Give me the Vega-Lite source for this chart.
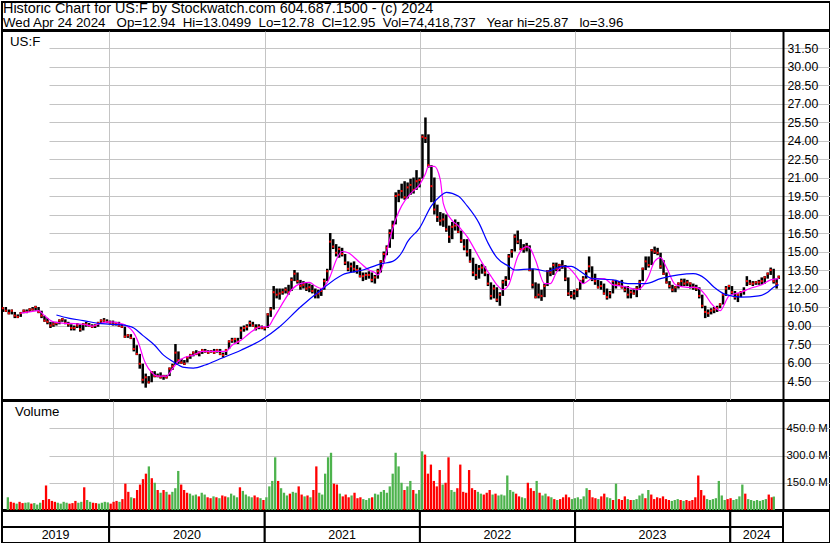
{
"$schema": "https://vega.github.io/schema/vega-lite/v6.json",
"padding": 0,
"background": "white",
"spacing": -2,
"resolve": {"scale": {"color": "independent"}},
"config": {
  "view": {"stroke": "#000000", "strokeWidth": 2},
  "font": "Liberation Sans",
  "axis": {"labelFont": "Liberation Sans", "labelColor": "#000000", "labelFontSize": 12.3, "gridColor": "#c4c4c4", "gridWidth": 1, "gridOpacity": 1}
},
"datasets": {
"hdr": [
  {"n": "1", "t": "Historic Chart for US:F by Stockwatch.com 604.687.1500 - (c) 2024"},
  {"n": "2", "t": "Wed Apr 24 2024\u00a0\u00a0 Op=12.94\u00a0 Hi=13.0499\u00a0 Lo=12.78\u00a0 Cl=12.95\u00a0 Vol=74,418,737\u00a0\u00a0 Year hi=25.87\u00a0\u00a0 lo=3.96"}
],
"yrs": [
  {"lab": "2019", "s": "2019-04-24", "e": "2020-01-01", "m": "2019-08-28"},
  {"lab": "2020", "s": "2020-01-01", "e": "2021-01-01", "m": "2020-07-02"},
  {"lab": "2021", "s": "2021-01-01", "e": "2022-01-01", "m": "2021-07-02"},
  {"lab": "2022", "s": "2022-01-01", "e": "2023-01-01", "m": "2022-07-02"},
  {"lab": "2023", "s": "2023-01-01", "e": "2024-01-01", "m": "2023-07-02"},
  {"lab": "2024", "s": "2024-01-01", "e": "2024-05-04", "m": "2024-03-03"}
],
"px": [
{"d":"2019-04-26","h":10.5,"l":10.1,"c":10.4,"v":70,"u":"up"},
{"d":"2019-05-03","h":10.5,"l":10.1,"c":10.2,"v":45,"u":"dn"},
{"d":"2019-05-10","h":10.3,"l":9.9,"c":10.0,"v":40,"u":"dn"},
{"d":"2019-05-17","h":10.3,"l":9.9,"c":10.2,"v":35,"u":"up"},
{"d":"2019-05-24","h":10.1,"l":9.6,"c":9.8,"v":45,"u":"dn"},
{"d":"2019-05-31","h":9.9,"l":9.6,"c":9.7,"v":38,"u":"dn"},
{"d":"2019-06-07","h":10.1,"l":9.7,"c":10.0,"v":40,"u":"up"},
{"d":"2019-06-14","h":10.3,"l":10.0,"c":10.2,"v":42,"u":"up"},
{"d":"2019-06-21","h":10.3,"l":10.0,"c":10.1,"v":35,"u":"dn"},
{"d":"2019-06-28","h":10.4,"l":10.1,"c":10.3,"v":38,"u":"up"},
{"d":"2019-07-05","h":10.5,"l":10.2,"c":10.3,"v":30,"u":"up"},
{"d":"2019-07-12","h":10.6,"l":10.2,"c":10.5,"v":40,"u":"up"},
{"d":"2019-07-19","h":10.5,"l":10.0,"c":10.1,"v":55,"u":"dn"},
{"d":"2019-07-26","h":10.2,"l":9.6,"c":9.8,"v":135,"u":"dn"},
{"d":"2019-08-02","h":9.8,"l":9.3,"c":9.4,"v":60,"u":"dn"},
{"d":"2019-08-09","h":9.6,"l":9.1,"c":9.3,"v":50,"u":"dn"},
{"d":"2019-08-16","h":9.3,"l":8.8,"c":9.0,"v":45,"u":"dn"},
{"d":"2019-08-23","h":9.3,"l":8.9,"c":9.1,"v":40,"u":"up"},
{"d":"2019-08-30","h":9.3,"l":9.0,"c":9.2,"v":35,"u":"up"},
{"d":"2019-09-06","h":9.5,"l":9.1,"c":9.4,"v":45,"u":"up"},
{"d":"2019-09-13","h":9.6,"l":9.3,"c":9.5,"v":40,"u":"up"},
{"d":"2019-09-20","h":9.5,"l":9.1,"c":9.2,"v":35,"u":"dn"},
{"d":"2019-09-27","h":9.3,"l":8.9,"c":9.1,"v":38,"u":"dn"},
{"d":"2019-10-04","h":9.1,"l":8.6,"c":8.8,"v":50,"u":"dn"},
{"d":"2019-10-11","h":9.0,"l":8.6,"c":8.8,"v":40,"u":"up"},
{"d":"2019-10-18","h":9.2,"l":8.8,"c":9.0,"v":45,"u":"up"},
{"d":"2019-10-25","h":9.1,"l":8.5,"c":8.7,"v":125,"u":"dn"},
{"d":"2019-11-01","h":9.2,"l":8.6,"c":9.1,"v":55,"u":"up"},
{"d":"2019-11-08","h":9.3,"l":8.9,"c":9.1,"v":45,"u":"up"},
{"d":"2019-11-15","h":9.2,"l":8.9,"c":9.0,"v":40,"u":"dn"},
{"d":"2019-11-22","h":9.1,"l":8.8,"c":8.9,"v":38,"u":"dn"},
{"d":"2019-11-29","h":9.1,"l":8.8,"c":9.0,"v":35,"u":"up"},
{"d":"2019-12-06","h":9.3,"l":8.9,"c":9.2,"v":40,"u":"up"},
{"d":"2019-12-13","h":9.5,"l":9.2,"c":9.4,"v":45,"u":"up"},
{"d":"2019-12-20","h":9.6,"l":9.3,"c":9.4,"v":42,"u":"up"},
{"d":"2019-12-27","h":9.5,"l":9.2,"c":9.3,"v":35,"u":"dn"},
{"d":"2020-01-03","h":9.4,"l":9.1,"c":9.2,"v":45,"u":"dn"},
{"d":"2020-01-10","h":9.4,"l":9.0,"c":9.1,"v":50,"u":"dn"},
{"d":"2020-01-17","h":9.3,"l":9.0,"c":9.2,"v":45,"u":"up"},
{"d":"2020-01-24","h":9.3,"l":8.9,"c":9.0,"v":60,"u":"dn"},
{"d":"2020-01-31","h":9.1,"l":8.8,"c":8.9,"v":145,"u":"dn"},
{"d":"2020-02-07","h":8.9,"l":8.0,"c":8.1,"v":100,"u":"dn"},
{"d":"2020-02-14","h":8.3,"l":8.0,"c":8.2,"v":70,"u":"up"},
{"d":"2020-02-21","h":8.3,"l":7.9,"c":8.0,"v":65,"u":"dn"},
{"d":"2020-02-28","h":8.0,"l":6.9,"c":7.1,"v":110,"u":"dn"},
{"d":"2020-03-06","h":7.4,"l":6.6,"c":6.7,"v":140,"u":"dn"},
{"d":"2020-03-13","h":6.7,"l":5.5,"c":5.9,"v":170,"u":"dn"},
{"d":"2020-03-20","h":5.9,"l":4.3,"c":4.6,"v":200,"u":"dn"},
{"d":"2020-03-27","h":5.1,"l":3.96,"c":4.8,"v":240,"u":"up"},
{"d":"2020-04-03","h":4.9,"l":4.3,"c":4.4,"v":175,"u":"dn"},
{"d":"2020-04-10","h":5.3,"l":4.4,"c":5.2,"v":150,"u":"up"},
{"d":"2020-04-17","h":5.3,"l":4.8,"c":4.9,"v":110,"u":"dn"},
{"d":"2020-04-24","h":5.1,"l":4.8,"c":4.9,"v":95,"u":"up"},
{"d":"2020-05-01","h":5.2,"l":4.7,"c":4.8,"v":110,"u":"dn"},
{"d":"2020-05-08","h":5.0,"l":4.6,"c":4.9,"v":100,"u":"up"},
{"d":"2020-05-15","h":5.0,"l":4.7,"c":4.8,"v":85,"u":"dn"},
{"d":"2020-05-22","h":5.6,"l":4.9,"c":5.5,"v":100,"u":"up"},
{"d":"2020-05-29","h":5.9,"l":5.4,"c":5.7,"v":120,"u":"up"},
{"d":"2020-06-05","h":7.5,"l":5.8,"c":6.8,"v":215,"u":"up"},
{"d":"2020-06-12","h":6.9,"l":5.9,"c":6.2,"v":140,"u":"dn"},
{"d":"2020-06-19","h":6.3,"l":5.9,"c":6.0,"v":110,"u":"dn"},
{"d":"2020-06-26","h":6.2,"l":5.8,"c":5.9,"v":95,"u":"dn"},
{"d":"2020-07-03","h":6.5,"l":6.0,"c":6.4,"v":90,"u":"up"},
{"d":"2020-07-10","h":6.7,"l":6.3,"c":6.6,"v":80,"u":"up"},
{"d":"2020-07-17","h":6.9,"l":6.5,"c":6.8,"v":85,"u":"up"},
{"d":"2020-07-24","h":7.0,"l":6.6,"c":6.7,"v":75,"u":"dn"},
{"d":"2020-07-31","h":6.9,"l":6.5,"c":6.8,"v":95,"u":"up"},
{"d":"2020-08-07","h":7.1,"l":6.7,"c":7.0,"v":85,"u":"up"},
{"d":"2020-08-14","h":7.1,"l":6.8,"c":6.9,"v":70,"u":"dn"},
{"d":"2020-08-21","h":7.0,"l":6.7,"c":6.8,"v":65,"u":"dn"},
{"d":"2020-08-28","h":7.0,"l":6.8,"c":6.9,"v":75,"u":"up"},
{"d":"2020-09-04","h":7.1,"l":6.7,"c":6.8,"v":70,"u":"dn"},
{"d":"2020-09-11","h":7.1,"l":6.8,"c":7.0,"v":65,"u":"up"},
{"d":"2020-09-18","h":7.1,"l":6.6,"c":6.7,"v":80,"u":"dn"},
{"d":"2020-09-25","h":6.8,"l":6.4,"c":6.6,"v":75,"u":"dn"},
{"d":"2020-10-02","h":7.1,"l":6.6,"c":7.0,"v":70,"u":"up"},
{"d":"2020-10-09","h":7.8,"l":7.1,"c":7.7,"v":90,"u":"up"},
{"d":"2020-10-16","h":8.0,"l":7.6,"c":7.8,"v":80,"u":"up"},
{"d":"2020-10-23","h":8.0,"l":7.6,"c":7.9,"v":70,"u":"up"},
{"d":"2020-10-30","h":8.0,"l":7.5,"c":7.7,"v":125,"u":"dn"},
{"d":"2020-11-06","h":8.9,"l":7.9,"c":8.6,"v":105,"u":"up"},
{"d":"2020-11-13","h":9.0,"l":8.5,"c":8.8,"v":85,"u":"up"},
{"d":"2020-11-20","h":9.1,"l":8.6,"c":8.9,"v":75,"u":"up"},
{"d":"2020-11-27","h":9.4,"l":8.9,"c":9.2,"v":70,"u":"up"},
{"d":"2020-12-04","h":9.3,"l":8.9,"c":9.0,"v":80,"u":"dn"},
{"d":"2020-12-11","h":9.1,"l":8.6,"c":8.8,"v":70,"u":"dn"},
{"d":"2020-12-18","h":9.1,"l":8.7,"c":8.9,"v":65,"u":"up"},
{"d":"2020-12-25","h":9.0,"l":8.7,"c":8.8,"v":55,"u":"dn"},
{"d":"2021-01-01","h":8.9,"l":8.6,"c":8.8,"v":70,"u":"up"},
{"d":"2021-01-08","h":10.0,"l":8.8,"c":9.9,"v":130,"u":"up"},
{"d":"2021-01-15","h":10.5,"l":9.7,"c":10.3,"v":160,"u":"up"},
{"d":"2021-01-22","h":12.2,"l":10.3,"c":11.7,"v":290,"u":"up"},
{"d":"2021-01-29","h":12.0,"l":11.2,"c":11.5,"v":160,"u":"dn"},
{"d":"2021-02-05","h":12.0,"l":11.1,"c":11.6,"v":120,"u":"up"},
{"d":"2021-02-12","h":12.0,"l":11.5,"c":11.7,"v":95,"u":"up"},
{"d":"2021-02-19","h":12.1,"l":11.6,"c":11.9,"v":80,"u":"up"},
{"d":"2021-02-26","h":12.3,"l":11.5,"c":11.7,"v":90,"u":"dn"},
{"d":"2021-03-05","h":12.9,"l":11.8,"c":12.7,"v":100,"u":"up"},
{"d":"2021-03-12","h":13.5,"l":12.6,"c":13.2,"v":95,"u":"up"},
{"d":"2021-03-19","h":13.3,"l":12.4,"c":12.6,"v":130,"u":"dn"},
{"d":"2021-03-26","h":12.7,"l":11.9,"c":12.2,"v":85,"u":"dn"},
{"d":"2021-04-02","h":12.6,"l":12.0,"c":12.3,"v":75,"u":"up"},
{"d":"2021-04-09","h":12.5,"l":11.8,"c":12.0,"v":80,"u":"dn"},
{"d":"2021-04-16","h":12.4,"l":11.7,"c":12.1,"v":70,"u":"up"},
{"d":"2021-04-23","h":12.3,"l":11.6,"c":11.8,"v":110,"u":"dn"},
{"d":"2021-04-30","h":12.0,"l":11.2,"c":11.5,"v":240,"u":"dn"},
{"d":"2021-05-07","h":11.9,"l":11.2,"c":11.6,"v":95,"u":"up"},
{"d":"2021-05-14","h":12.0,"l":11.4,"c":11.8,"v":85,"u":"up"},
{"d":"2021-05-21","h":12.8,"l":11.9,"c":12.6,"v":200,"u":"up"},
{"d":"2021-05-28","h":13.6,"l":12.6,"c":13.4,"v":290,"u":"up"},
{"d":"2021-06-04","h":16.5,"l":13.5,"c":15.8,"v":315,"u":"up"},
{"d":"2021-06-11","h":16.0,"l":15.2,"c":15.4,"v":145,"u":"dn"},
{"d":"2021-06-18","h":15.6,"l":14.6,"c":14.9,"v":140,"u":"dn"},
{"d":"2021-06-25","h":15.4,"l":14.5,"c":15.2,"v":90,"u":"up"},
{"d":"2021-07-02","h":15.3,"l":14.6,"c":14.8,"v":75,"u":"dn"},
{"d":"2021-07-09","h":14.8,"l":13.9,"c":14.1,"v":85,"u":"dn"},
{"d":"2021-07-16","h":14.2,"l":13.4,"c":13.6,"v":70,"u":"dn"},
{"d":"2021-07-23","h":14.1,"l":13.3,"c":13.8,"v":80,"u":"up"},
{"d":"2021-07-30","h":14.2,"l":13.3,"c":13.6,"v":95,"u":"dn"},
{"d":"2021-08-06","h":13.9,"l":13.2,"c":13.5,"v":65,"u":"dn"},
{"d":"2021-08-13","h":13.7,"l":12.9,"c":13.0,"v":70,"u":"dn"},
{"d":"2021-08-20","h":13.3,"l":12.6,"c":13.0,"v":60,"u":"up"},
{"d":"2021-08-27","h":13.3,"l":12.7,"c":13.1,"v":55,"u":"up"},
{"d":"2021-09-03","h":13.4,"l":12.8,"c":13.1,"v":65,"u":"up"},
{"d":"2021-09-10","h":13.3,"l":12.5,"c":12.7,"v":70,"u":"dn"},
{"d":"2021-09-17","h":13.1,"l":12.4,"c":12.9,"v":90,"u":"up"},
{"d":"2021-09-24","h":13.6,"l":12.8,"c":13.4,"v":85,"u":"up"},
{"d":"2021-10-01","h":14.3,"l":13.3,"c":14.2,"v":100,"u":"up"},
{"d":"2021-10-08","h":15.0,"l":14.1,"c":14.8,"v":110,"u":"up"},
{"d":"2021-10-15","h":15.5,"l":14.7,"c":15.3,"v":95,"u":"up"},
{"d":"2021-10-22","h":16.8,"l":15.3,"c":16.5,"v":130,"u":"up"},
{"d":"2021-10-29","h":17.5,"l":16.0,"c":17.1,"v":200,"u":"up"},
{"d":"2021-11-05","h":19.8,"l":17.2,"c":19.5,"v":315,"u":"up"},
{"d":"2021-11-12","h":20.0,"l":19.0,"c":19.6,"v":240,"u":"up"},
{"d":"2021-11-19","h":20.5,"l":19.3,"c":19.9,"v":150,"u":"up"},
{"d":"2021-11-26","h":20.7,"l":19.2,"c":19.4,"v":110,"u":"dn"},
{"d":"2021-12-03","h":20.6,"l":19.3,"c":20.2,"v":130,"u":"up"},
{"d":"2021-12-10","h":20.9,"l":19.6,"c":20.4,"v":160,"u":"up"},
{"d":"2021-12-17","h":21.0,"l":19.7,"c":20.0,"v":110,"u":"dn"},
{"d":"2021-12-24","h":21.6,"l":20.0,"c":20.7,"v":90,"u":"up"},
{"d":"2021-12-31","h":21.0,"l":20.2,"c":20.8,"v":110,"u":"up"},
{"d":"2022-01-07","h":24.5,"l":20.9,"c":24.3,"v":323,"u":"up"},
{"d":"2022-01-14","h":25.87,"l":23.8,"c":24.2,"v":305,"u":"dn"},
{"d":"2022-01-21","h":24.5,"l":21.8,"c":22.0,"v":200,"u":"dn"},
{"d":"2022-01-28","h":22.0,"l":19.0,"c":20.3,"v":250,"u":"dn"},
{"d":"2022-02-04","h":21.0,"l":18.0,"c":18.4,"v":160,"u":"dn"},
{"d":"2022-02-11","h":18.8,"l":17.4,"c":17.8,"v":130,"u":"dn"},
{"d":"2022-02-18","h":18.2,"l":17.1,"c":17.5,"v":220,"u":"dn"},
{"d":"2022-02-25","h":18.1,"l":17.0,"c":17.6,"v":140,"u":"up"},
{"d":"2022-03-04","h":18.0,"l":16.6,"c":16.8,"v":150,"u":"dn"},
{"d":"2022-03-11","h":17.1,"l":15.7,"c":16.2,"v":290,"u":"dn"},
{"d":"2022-03-18","h":17.4,"l":16.0,"c":17.0,"v":110,"u":"up"},
{"d":"2022-03-25","h":17.6,"l":16.7,"c":17.1,"v":100,"u":"up"},
{"d":"2022-04-01","h":17.4,"l":16.5,"c":16.6,"v":120,"u":"dn"},
{"d":"2022-04-08","h":16.7,"l":15.7,"c":15.9,"v":250,"u":"dn"},
{"d":"2022-04-15","h":16.0,"l":15.1,"c":15.4,"v":100,"u":"dn"},
{"d":"2022-04-22","h":16.0,"l":14.6,"c":15.0,"v":95,"u":"dn"},
{"d":"2022-04-29","h":15.2,"l":14.1,"c":14.2,"v":220,"u":"dn"},
{"d":"2022-05-06","h":14.5,"l":13.0,"c":13.3,"v":120,"u":"dn"},
{"d":"2022-05-13","h":14.0,"l":12.7,"c":13.1,"v":110,"u":"dn"},
{"d":"2022-05-20","h":13.9,"l":12.8,"c":13.6,"v":100,"u":"up"},
{"d":"2022-05-27","h":14.0,"l":13.2,"c":13.7,"v":90,"u":"up"},
{"d":"2022-06-03","h":13.8,"l":13.0,"c":13.3,"v":85,"u":"dn"},
{"d":"2022-06-10","h":13.2,"l":12.2,"c":12.4,"v":95,"u":"dn"},
{"d":"2022-06-17","h":12.5,"l":11.1,"c":11.4,"v":110,"u":"dn"},
{"d":"2022-06-24","h":12.3,"l":11.2,"c":12.0,"v":85,"u":"up"},
{"d":"2022-07-01","h":12.1,"l":10.9,"c":11.1,"v":90,"u":"dn"},
{"d":"2022-07-08","h":11.7,"l":10.6,"c":11.5,"v":80,"u":"up"},
{"d":"2022-07-15","h":12.7,"l":11.4,"c":12.5,"v":85,"u":"up"},
{"d":"2022-07-22","h":13.0,"l":12.2,"c":12.7,"v":80,"u":"up"},
{"d":"2022-07-29","h":14.8,"l":12.7,"c":14.6,"v":190,"u":"up"},
{"d":"2022-08-05","h":15.2,"l":14.5,"c":15.0,"v":110,"u":"up"},
{"d":"2022-08-12","h":16.4,"l":15.0,"c":16.2,"v":100,"u":"up"},
{"d":"2022-08-19","h":16.7,"l":15.6,"c":15.8,"v":90,"u":"dn"},
{"d":"2022-08-26","h":16.0,"l":15.1,"c":15.2,"v":75,"u":"dn"},
{"d":"2022-09-02","h":15.6,"l":14.9,"c":15.2,"v":70,"u":"up"},
{"d":"2022-09-09","h":15.7,"l":15.0,"c":15.4,"v":65,"u":"up"},
{"d":"2022-09-16","h":15.5,"l":13.4,"c":13.5,"v":150,"u":"dn"},
{"d":"2022-09-23","h":13.6,"l":12.0,"c":12.3,"v":120,"u":"dn"},
{"d":"2022-09-30","h":12.5,"l":11.2,"c":11.3,"v":105,"u":"dn"},
{"d":"2022-10-07","h":12.4,"l":11.2,"c":11.5,"v":160,"u":"up"},
{"d":"2022-10-14","h":11.9,"l":11.0,"c":11.4,"v":95,"u":"dn"},
{"d":"2022-10-21","h":12.4,"l":11.3,"c":12.2,"v":80,"u":"up"},
{"d":"2022-10-28","h":13.5,"l":12.2,"c":13.4,"v":90,"u":"up"},
{"d":"2022-11-04","h":13.7,"l":13.0,"c":13.3,"v":75,"u":"dn"},
{"d":"2022-11-11","h":14.1,"l":13.1,"c":13.9,"v":70,"u":"up"},
{"d":"2022-11-18","h":14.1,"l":13.4,"c":13.6,"v":60,"u":"dn"},
{"d":"2022-11-25","h":14.0,"l":13.4,"c":13.9,"v":55,"u":"up"},
{"d":"2022-12-02","h":14.3,"l":13.6,"c":13.8,"v":60,"u":"dn"},
{"d":"2022-12-09","h":13.9,"l":12.6,"c":12.8,"v":70,"u":"dn"},
{"d":"2022-12-16","h":12.9,"l":11.4,"c":11.6,"v":85,"u":"dn"},
{"d":"2022-12-23","h":11.8,"l":11.2,"c":11.4,"v":70,"u":"dn"},
{"d":"2022-12-30","h":11.9,"l":11.1,"c":11.6,"v":60,"u":"up"},
{"d":"2023-01-06","h":12.0,"l":11.3,"c":11.9,"v":65,"u":"up"},
{"d":"2023-01-13","h":12.7,"l":11.9,"c":12.6,"v":70,"u":"up"},
{"d":"2023-01-20","h":13.0,"l":12.4,"c":12.8,"v":60,"u":"up"},
{"d":"2023-01-27","h":13.5,"l":12.8,"c":13.4,"v":75,"u":"up"},
{"d":"2023-02-03","h":14.6,"l":13.3,"c":13.8,"v":120,"u":"up"},
{"d":"2023-02-10","h":13.8,"l":12.6,"c":12.8,"v":110,"u":"dn"},
{"d":"2023-02-17","h":13.2,"l":12.3,"c":12.6,"v":70,"u":"dn"},
{"d":"2023-02-24","h":12.7,"l":12.0,"c":12.1,"v":65,"u":"dn"},
{"d":"2023-03-03","h":12.6,"l":11.9,"c":12.2,"v":60,"u":"up"},
{"d":"2023-03-10","h":12.4,"l":11.5,"c":11.6,"v":75,"u":"dn"},
{"d":"2023-03-17","h":12.0,"l":11.1,"c":11.3,"v":90,"u":"dn"},
{"d":"2023-03-24","h":11.8,"l":11.2,"c":11.6,"v":70,"u":"up"},
{"d":"2023-03-31","h":12.6,"l":11.6,"c":12.6,"v":65,"u":"up"},
{"d":"2023-04-07","h":12.7,"l":12.0,"c":12.3,"v":55,"u":"dn"},
{"d":"2023-04-14","h":12.6,"l":12.2,"c":12.4,"v":145,"u":"up"},
{"d":"2023-04-21","h":12.7,"l":12.0,"c":12.1,"v":60,"u":"dn"},
{"d":"2023-04-28","h":12.2,"l":11.7,"c":11.9,"v":55,"u":"dn"},
{"d":"2023-05-05","h":12.2,"l":11.2,"c":11.5,"v":75,"u":"dn"},
{"d":"2023-05-12","h":11.9,"l":11.2,"c":11.7,"v":60,"u":"up"},
{"d":"2023-05-19","h":12.0,"l":11.5,"c":11.6,"v":55,"u":"dn"},
{"d":"2023-05-26","h":12.2,"l":11.3,"c":12.0,"v":55,"u":"up"},
{"d":"2023-06-02","h":12.7,"l":11.9,"c":12.5,"v":60,"u":"up"},
{"d":"2023-06-09","h":13.7,"l":12.6,"c":13.6,"v":80,"u":"up"},
{"d":"2023-06-16","h":14.6,"l":13.5,"c":14.2,"v":90,"u":"up"},
{"d":"2023-06-23","h":14.6,"l":13.7,"c":13.9,"v":65,"u":"dn"},
{"d":"2023-06-30","h":15.2,"l":13.9,"c":15.1,"v":110,"u":"up"},
{"d":"2023-07-07","h":15.4,"l":14.8,"c":15.0,"v":85,"u":"dn"},
{"d":"2023-07-14","h":15.3,"l":14.7,"c":14.9,"v":60,"u":"dn"},
{"d":"2023-07-21","h":14.9,"l":13.6,"c":13.8,"v":70,"u":"dn"},
{"d":"2023-07-28","h":14.3,"l":13.1,"c":13.2,"v":65,"u":"dn"},
{"d":"2023-08-04","h":13.3,"l":12.4,"c":12.5,"v":75,"u":"dn"},
{"d":"2023-08-11","h":12.6,"l":12.0,"c":12.2,"v":60,"u":"dn"},
{"d":"2023-08-18","h":12.3,"l":11.7,"c":11.9,"v":55,"u":"dn"},
{"d":"2023-08-25","h":12.2,"l":11.7,"c":12.1,"v":50,"u":"up"},
{"d":"2023-09-01","h":12.5,"l":12.0,"c":12.4,"v":55,"u":"up"},
{"d":"2023-09-08","h":12.8,"l":12.2,"c":12.6,"v":60,"u":"up"},
{"d":"2023-09-15","h":12.8,"l":12.2,"c":12.4,"v":55,"u":"dn"},
{"d":"2023-09-22","h":12.7,"l":12.2,"c":12.5,"v":50,"u":"up"},
{"d":"2023-09-29","h":12.5,"l":12.0,"c":12.4,"v":55,"u":"dn"},
{"d":"2023-10-06","h":12.4,"l":11.9,"c":12.1,"v":50,"u":"dn"},
{"d":"2023-10-13","h":12.3,"l":11.8,"c":12.0,"v":55,"u":"dn"},
{"d":"2023-10-20","h":12.1,"l":11.2,"c":11.4,"v":70,"u":"dn"},
{"d":"2023-10-27","h":11.5,"l":10.4,"c":10.6,"v":190,"u":"dn"},
{"d":"2023-11-03","h":10.6,"l":9.6,"c":10.1,"v":110,"u":"dn"},
{"d":"2023-11-10","h":10.3,"l":9.7,"c":10.0,"v":80,"u":"dn"},
{"d":"2023-11-17","h":10.4,"l":9.9,"c":10.2,"v":60,"u":"up"},
{"d":"2023-11-24","h":10.5,"l":10.0,"c":10.3,"v":55,"u":"up"},
{"d":"2023-12-01","h":10.6,"l":10.1,"c":10.4,"v":60,"u":"up"},
{"d":"2023-12-08","h":10.8,"l":10.4,"c":10.7,"v":65,"u":"up"},
{"d":"2023-12-15","h":11.6,"l":10.7,"c":11.5,"v":160,"u":"up"},
{"d":"2023-12-22","h":12.2,"l":11.4,"c":12.0,"v":80,"u":"up"},
{"d":"2023-12-29","h":12.3,"l":11.9,"c":12.2,"v":55,"u":"up"},
{"d":"2024-01-05","h":12.2,"l":11.5,"c":11.7,"v":60,"u":"dn"},
{"d":"2024-01-12","h":11.8,"l":11.1,"c":11.3,"v":65,"u":"dn"},
{"d":"2024-01-19","h":11.6,"l":10.9,"c":11.5,"v":55,"u":"up"},
{"d":"2024-01-26","h":11.8,"l":11.3,"c":11.7,"v":60,"u":"up"},
{"d":"2024-02-02","h":12.1,"l":11.5,"c":11.8,"v":75,"u":"up"},
{"d":"2024-02-09","h":13.0,"l":12.2,"c":12.6,"v":140,"u":"up"},
{"d":"2024-02-16","h":12.7,"l":12.3,"c":12.4,"v":90,"u":"dn"},
{"d":"2024-02-23","h":12.6,"l":12.2,"c":12.4,"v":60,"u":"up"},
{"d":"2024-03-01","h":12.6,"l":12.3,"c":12.5,"v":55,"u":"up"},
{"d":"2024-03-08","h":12.7,"l":12.3,"c":12.5,"v":50,"u":"up"},
{"d":"2024-03-15","h":12.9,"l":12.3,"c":12.6,"v":55,"u":"up"},
{"d":"2024-03-22","h":13.0,"l":12.4,"c":12.9,"v":50,"u":"up"},
{"d":"2024-03-29","h":13.3,"l":12.8,"c":13.2,"v":55,"u":"up"},
{"d":"2024-04-05","h":13.7,"l":13.1,"c":13.5,"v":60,"u":"up"},
{"d":"2024-04-12","h":13.6,"l":12.4,"c":12.6,"v":85,"u":"dn"},
{"d":"2024-04-19","h":12.8,"l":12.0,"c":12.4,"v":70,"u":"dn"},
{"d":"2024-04-24","h":13.05,"l":12.78,"c":12.95,"v":74,"u":"up"}
],
"ma": [
{"d":"2019-06-07","s":"m","p":10.0},{"d":"2019-06-28","s":"m","p":10.1},{"d":"2019-07-19","s":"m","p":10.2},{"d":"2019-08-02","s":"m","p":9.8},{"d":"2019-08-23","s":"m","p":9.3},{"d":"2019-09-13","s":"m","p":9.2},{"d":"2019-10-11","s":"m","p":9.15},{"d":"2019-11-01","s":"m","p":9.1},{"d":"2019-11-22","s":"m","p":8.95},{"d":"2019-12-13","s":"m","p":9.2},{"d":"2020-01-03","s":"m","p":9.3},{"d":"2020-01-24","s":"m","p":9.2},{"d":"2020-02-07","s":"m","p":9.05},{"d":"2020-02-21","s":"m","p":8.7},{"d":"2020-02-28","s":"m","p":8.4},{"d":"2020-03-13","s":"m","p":7.3},{"d":"2020-03-20","s":"m","p":6.5},{"d":"2020-03-27","s":"m","p":5.9},{"d":"2020-04-10","s":"m","p":5.2},{"d":"2020-04-24","s":"m","p":4.9},{"d":"2020-05-15","s":"m","p":4.9},{"d":"2020-05-29","s":"m","p":5.5},{"d":"2020-06-12","s":"m","p":6.1},{"d":"2020-06-26","s":"m","p":6.4},{"d":"2020-07-17","s":"m","p":6.6},{"d":"2020-08-07","s":"m","p":6.9},{"d":"2020-09-18","s":"m","p":6.9},{"d":"2020-10-02","s":"m","p":6.9},{"d":"2020-10-16","s":"m","p":7.4},{"d":"2020-11-06","s":"m","p":7.8},{"d":"2020-11-27","s":"m","p":8.4},{"d":"2020-12-25","s":"m","p":8.9},{"d":"2021-01-08","s":"m","p":8.9},{"d":"2021-01-22","s":"m","p":9.6},{"d":"2021-02-05","s":"m","p":10.4},{"d":"2021-02-19","s":"m","p":11.2},{"d":"2021-03-05","s":"m","p":11.9},{"d":"2021-03-26","s":"m","p":12.4},{"d":"2021-04-16","s":"m","p":12.5},{"d":"2021-04-30","s":"m","p":12.2},{"d":"2021-05-14","s":"m","p":12.0},{"d":"2021-05-28","s":"m","p":12.5},{"d":"2021-06-04","s":"m","p":13.0},{"d":"2021-06-18","s":"m","p":14.3},{"d":"2021-07-02","s":"m","p":15.0},{"d":"2021-07-16","s":"m","p":14.9},{"d":"2021-08-13","s":"m","p":14.1},{"d":"2021-09-03","s":"m","p":13.5},{"d":"2021-09-17","s":"m","p":13.3},{"d":"2021-09-24","s":"m","p":13.1},{"d":"2021-10-08","s":"m","p":14.1},{"d":"2021-10-22","s":"m","p":16.0},{"d":"2021-11-05","s":"m","p":17.6},{"d":"2021-11-19","s":"m","p":18.7},{"d":"2021-12-10","s":"m","p":19.7},{"d":"2021-12-31","s":"m","p":20.4},{"d":"2022-01-14","s":"m","p":21.3},{"d":"2022-01-21","s":"m","p":21.9},{"d":"2022-02-04","s":"m","p":21.9},{"d":"2022-02-18","s":"m","p":20.8},{"d":"2022-02-25","s":"m","p":18.9},{"d":"2022-03-18","s":"m","p":17.5},{"d":"2022-04-01","s":"m","p":17.1},{"d":"2022-04-08","s":"m","p":16.8},{"d":"2022-04-22","s":"m","p":16.2},{"d":"2022-05-06","s":"m","p":15.4},{"d":"2022-05-27","s":"m","p":14.1},{"d":"2022-06-17","s":"m","p":13.0},{"d":"2022-07-01","s":"m","p":12.3},{"d":"2022-07-15","s":"m","p":11.9},{"d":"2022-07-29","s":"m","p":12.3},{"d":"2022-08-05","s":"m","p":13.0},{"d":"2022-08-19","s":"m","p":14.6},{"d":"2022-09-09","s":"m","p":15.4},{"d":"2022-09-16","s":"m","p":15.3},{"d":"2022-09-30","s":"m","p":14.3},{"d":"2022-10-21","s":"m","p":12.4},{"d":"2022-11-04","s":"m","p":12.4},{"d":"2022-11-18","s":"m","p":13.3},{"d":"2022-12-02","s":"m","p":13.8},{"d":"2022-12-16","s":"m","p":13.7},{"d":"2022-12-30","s":"m","p":13.2},{"d":"2023-01-20","s":"m","p":12.4},{"d":"2023-02-10","s":"m","p":12.8},{"d":"2023-03-10","s":"m","p":12.8},{"d":"2023-03-31","s":"m","p":12.3},{"d":"2023-04-21","s":"m","p":12.2},{"d":"2023-05-05","s":"m","p":12.1},{"d":"2023-05-26","s":"m","p":11.9},{"d":"2023-06-09","s":"m","p":12.2},{"d":"2023-06-23","s":"m","p":13.0},{"d":"2023-07-07","s":"m","p":14.2},{"d":"2023-07-21","s":"m","p":14.5},{"d":"2023-08-04","s":"m","p":13.7},{"d":"2023-08-25","s":"m","p":12.3},{"d":"2023-09-22","s":"m","p":12.1},{"d":"2023-10-13","s":"m","p":12.1},{"d":"2023-11-03","s":"m","p":11.5},{"d":"2023-11-17","s":"m","p":10.8},{"d":"2023-12-08","s":"m","p":10.2},{"d":"2023-12-29","s":"m","p":11.4},{"d":"2024-01-26","s":"m","p":11.7},{"d":"2024-02-16","s":"m","p":12.0},{"d":"2024-03-15","s":"m","p":12.3},{"d":"2024-04-05","s":"m","p":12.7},{"d":"2024-04-24","s":"m","p":12.8},
{"d":"2019-08-30","s":"b","p":9.85},{"d":"2019-09-27","s":"b","p":9.6},{"d":"2019-11-01","s":"b","p":9.4},{"d":"2019-12-13","s":"b","p":9.15},{"d":"2020-01-31","s":"b","p":9.05},{"d":"2020-02-28","s":"b","p":8.8},{"d":"2020-03-20","s":"b","p":8.2},{"d":"2020-04-17","s":"b","p":7.4},{"d":"2020-05-08","s":"b","p":6.6},{"d":"2020-05-29","s":"b","p":6.1},{"d":"2020-06-26","s":"b","p":5.6},{"d":"2020-07-17","s":"b","p":5.55},{"d":"2020-08-14","s":"b","p":5.8},{"d":"2020-09-18","s":"b","p":6.3},{"d":"2020-11-06","s":"b","p":7.0},{"d":"2020-12-25","s":"b","p":7.85},{"d":"2021-02-05","s":"b","p":8.9},{"d":"2021-03-26","s":"b","p":10.5},{"d":"2021-05-14","s":"b","p":11.9},{"d":"2021-07-02","s":"b","p":13.1},{"d":"2021-08-20","s":"b","p":13.5},{"d":"2021-10-01","s":"b","p":14.0},{"d":"2021-10-29","s":"b","p":14.2},{"d":"2021-11-19","s":"b","p":14.9},{"d":"2021-12-03","s":"b","p":15.8},{"d":"2021-12-31","s":"b","p":16.9},{"d":"2022-01-28","s":"b","p":18.7},{"d":"2022-02-18","s":"b","p":19.5},{"d":"2022-03-04","s":"b","p":19.8},{"d":"2022-04-01","s":"b","p":19.5},{"d":"2022-04-22","s":"b","p":18.7},{"d":"2022-05-20","s":"b","p":17.3},{"d":"2022-06-10","s":"b","p":15.7},{"d":"2022-07-01","s":"b","p":14.5},{"d":"2022-07-29","s":"b","p":13.8},{"d":"2022-08-12","s":"b","p":13.5},{"d":"2022-09-23","s":"b","p":13.6},{"d":"2022-10-28","s":"b","p":13.4},{"d":"2022-12-02","s":"b","p":13.8},{"d":"2022-12-23","s":"b","p":13.8},{"d":"2023-01-13","s":"b","p":13.4},{"d":"2023-02-10","s":"b","p":12.8},{"d":"2023-03-31","s":"b","p":12.7},{"d":"2023-05-05","s":"b","p":12.4},{"d":"2023-06-16","s":"b","p":12.4},{"d":"2023-07-21","s":"b","p":12.8},{"d":"2023-09-01","s":"b","p":13.1},{"d":"2023-10-06","s":"b","p":13.2},{"d":"2023-11-03","s":"b","p":12.8},{"d":"2023-11-24","s":"b","p":12.1},{"d":"2023-12-22","s":"b","p":11.5},{"d":"2024-01-26","s":"b","p":11.3},{"d":"2024-03-08","s":"b","p":11.4},{"d":"2024-03-29","s":"b","p":11.7},{"d":"2024-04-12","s":"b","p":12.1},{"d":"2024-04-24","s":"b","p":12.3}
]
},
"vconcat": [
{
  "width": 828, "height": 28,
  "data": {"name": "hdr"},
  "layer": [
    {
      "transform": [{"filter": "datum.n == '1'"}],
      "mark": {"type": "text", "align": "left", "baseline": "middle", "fontSize": 14.4, "color": "#000000", "dx": 1},
      "encoding": {
        "x": {"datum": {"year": 2019, "month": 4, "date": 24}, "type": "temporal", "scale": {"domain": [{"year": 2019, "month": 4, "date": 24}, {"year": 2024, "month": 5, "date": 4}], "range": [0, 781]}, "axis": null},
        "y": {"field": "n", "type": "ordinal", "axis": null, "scale": {"domain": ["1", "2"]}},
        "text": {"field": "t"}
      }
    },
    {
      "transform": [{"filter": "datum.n == '2'"}],
      "mark": {"type": "text", "align": "left", "baseline": "middle", "fontSize": 13.3, "color": "#000000", "dx": 1},
      "encoding": {
        "x": {"datum": {"year": 2019, "month": 4, "date": 24}, "type": "temporal"},
        "y": {"field": "n", "type": "ordinal", "axis": null},
        "text": {"field": "t"}
      }
    }
  ]
},
{
  "width": 828, "height": 369,
  "layer": [
    {
      "data": {"name": "px"},
      "mark": {"type": "rule", "color": "#000000", "strokeWidth": 2.5},
      "encoding": {
        "x": {"field": "d", "type": "temporal",
              "scale": {"domain": [{"year": 2019, "month": 4, "date": 24}, {"year": 2024, "month": 5, "date": 4}], "range": [0, 781]},
              "axis": {"values": [{"year": 2020, "month": 1, "date": 1}, {"year": 2021, "month": 1, "date": 1}, {"year": 2022, "month": 1, "date": 1}, {"year": 2023, "month": 1, "date": 1}, {"year": 2024, "month": 1, "date": 1}], "tickCount": 50, "labels": false, "ticks": false, "domain": false, "grid": true, "title": null, "labelPadding": 0, "minExtent": 0, "maxExtent": 0}},
        "y": {"field": "l", "type": "quantitative",
              "scale": {"domain": [2.96, 32.88], "nice": false, "zero": false},
              "axis": {"orient": "right", "offset": -47, "values": [4.5, 6, 7.5, 9, 10.5, 12, 13.5, 15, 16.5, 18, 19.5, 21, 22.5, 24, 25.5, 27, 28.5, 30, 31.5], "tickCount": 40, "format": ".2f", "grid": true, "ticks": false, "domain": true, "domainColor": "#000000", "domainWidth": 2, "labelPadding": 4, "labelOverlap": false, "title": null}},
        "y2": {"field": "h"}
      }
    },
    {
      "data": {"name": "px"},
      "mark": {"type": "point", "shape": "square", "filled": true, "size": 4, "color": "#ff0000", "opacity": 1},
      "encoding": {
        "x": {"field": "d", "type": "temporal"},
        "y": {"field": "c", "type": "quantitative"}
      }
    },
    {
      "data": {"name": "ma"},
      "mark": {"type": "line", "strokeWidth": 1.2, "interpolate": "monotone"},
      "encoding": {
        "x": {"field": "d", "type": "temporal"},
        "y": {"field": "p", "type": "quantitative"},
        "color": {"field": "s", "type": "nominal", "scale": {"domain": ["m", "b"], "range": ["#ff00ff", "#0000ff"]}, "legend": null}
      }
    },
    {
      "data": {"values": [{"t": "US:F"}]},
      "mark": {"type": "text", "align": "left", "baseline": "top", "fontSize": 13.3, "color": "#000000", "dx": 8, "dy": 4},
      "encoding": {
        "x": {"datum": {"year": 2019, "month": 4, "date": 24}, "type": "temporal"},
        "y": {"datum": 32.88, "type": "quantitative"},
        "text": {"field": "t"}
      }
    }
  ]
},
{
  "width": 828, "height": 109,
  "layer": [
    {
      "data": {"name": "px"},
      "mark": {"type": "bar", "size": 2.3},
      "encoding": {
        "x": {"field": "d", "type": "temporal",
              "scale": {"domain": [{"year": 2019, "month": 4, "date": 24}, {"year": 2024, "month": 5, "date": 4}], "range": [0, 781]},
              "axis": {"values": [{"year": 2020, "month": 1, "date": 1}, {"year": 2021, "month": 1, "date": 1}, {"year": 2022, "month": 1, "date": 1}, {"year": 2023, "month": 1, "date": 1}, {"year": 2024, "month": 1, "date": 1}], "tickCount": 50, "labels": false, "ticks": false, "domain": false, "grid": true, "title": null, "labelPadding": 0, "minExtent": 0, "maxExtent": 0}},
        "y": {"field": "v", "type": "quantitative",
              "scale": {"domain": [0, 600], "nice": false},
              "axis": {"orient": "right", "offset": -47, "values": [150, 300, 450], "tickCount": 10, "labelExpr": "format(datum.value, '.1f') + ' M'", "labelFontSize": 11.4, "grid": true, "ticks": false, "domain": true, "domainColor": "#000000", "domainWidth": 2, "labelPadding": 3, "labelOverlap": false, "title": null}},
        "color": {"field": "u", "type": "nominal", "scale": {"domain": ["up", "dn"], "range": ["#4db34d", "#ff0000"]}, "legend": null}
      }
    },
    {
      "data": {"values": [{"t": "Volume"}]},
      "mark": {"type": "text", "align": "left", "baseline": "top", "fontSize": 13.3, "color": "#000000", "dx": 8, "dy": 4},
      "encoding": {
        "x": {"datum": {"year": 2019, "month": 4, "date": 24}, "type": "temporal"},
        "y": {"datum": 600, "type": "quantitative"},
        "text": {"field": "t"}
      }
    }
  ]
},
{
  "width": 828, "height": 32,
  "data": {"name": "yrs"},
  "layer": [
    {
      "mark": {"type": "rect", "fill": "#ffffff", "stroke": "#000000", "strokeWidth": 2},
      "encoding": {
        "x": {"field": "s", "type": "temporal", "scale": {"domain": [{"year": 2019, "month": 4, "date": 24}, {"year": 2024, "month": 5, "date": 4}], "range": [0, 781]}, "axis": null},
        "x2": {"field": "e"},
        "y": {"datum": "a", "type": "nominal", "scale": {"domain": ["a", "b"], "paddingInner": 0, "paddingOuter": 0}, "axis": null}
      }
    },
    {
      "mark": {"type": "rect", "fill": "#ffffff", "stroke": "#000000", "strokeWidth": 2},
      "encoding": {
        "x": {"field": "s", "type": "temporal"},
        "x2": {"field": "e"},
        "y": {"datum": "b", "type": "nominal"}
      }
    },
    {
      "mark": {"type": "text", "fontSize": 12.5, "baseline": "middle", "align": "center", "color": "#000000"},
      "encoding": {
        "x": {"field": "m", "type": "temporal"},
        "y": {"datum": "b", "type": "nominal"},
        "text": {"field": "lab"}
      }
    }
  ]
}
]
}
